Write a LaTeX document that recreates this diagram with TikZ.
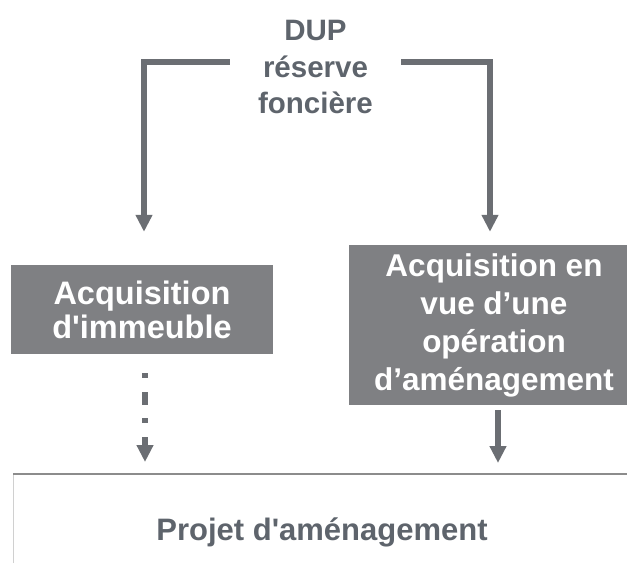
\documentclass[tikz,border=0pt]{standalone}
\usepackage{fontspec}
\setmainfont{Liberation Sans}
\usetikzlibrary{arrows.meta}
\definecolor{conncol}{HTML}{6B6E73}
\definecolor{boxcol}{HTML}{7F8083}
\definecolor{txtcol}{HTML}{5E646C}
\definecolor{framecol}{HTML}{8C8C8C}
\definecolor{sidecol}{HTML}{D0D0D0}
\tikzset{
  conn/.style={draw=conncol, line width=6.5pt, -{Triangle[width=16pt,length=17pt]}},
  graybox/.style={fill=boxcol, draw=none, text=white, align=center, inner sep=0pt, font=\bfseries},
  plaintext/.style={text=txtcol, align=center, inner sep=0pt, font=\bfseries},
}
\begin{document}
\begin{tikzpicture}[x=1pt,y=-1pt]
\clip (0,0) rectangle (627,563);
\useasboundingbox (0,0) rectangle (627,563);
% top label
\node[plaintext, minimum width=171pt, font=\bfseries\fontsize{29.5}{36.5}\selectfont] (dup) at (315.5,67) {DUP\\réserve\\foncière};
% boxes
\node[graybox, minimum width=262pt, minimum height=89pt, font=\bfseries\fontsize{32.5}{34}\selectfont] (acq1) at (142,309.5) {Acquisition\\d\textquotesingle immeuble};
\node[graybox, minimum width=290pt, minimum height=160pt, font=\bfseries\fontsize{31.5}{38}\selectfont] (acq2) at (494,325) {Acquisition en\\vue d’une\\opération\\d’aménagement};
% bottom frame
\coordinate (ftl) at (13,474);
\coordinate (ftr) at (627,474);
\coordinate (fbl) at (13,563);
\node[plaintext, font=\bfseries\fontsize{31}{36}\selectfont] (proj) at (322,532) {Projet d\textquotesingle aménagement};
\draw[sidecol, line width=1pt] (fbl) -- (ftl);
\draw[framecol, line width=2pt] (ftl) -- (ftr);
% connectors
\draw[conn, shorten >=33pt] ([yshift=5pt]dup.west) -| ([xshift=2pt]acq1.north);
\draw[conn, shorten >=13pt] ([yshift=5pt]dup.east) -| ([xshift=-4pt]acq2.north);
\draw[conn, line width=6pt, dash pattern=on 5pt off 14pt on 13pt off 13pt, shorten <=19pt, shorten >=12pt] ([xshift=3pt]acq1.south) -- ([xshift=3pt]acq1.south |- ftl);
\draw[conn, shorten <=5pt, shorten >=11pt] ([xshift=4pt]acq2.south) -- ([xshift=4pt]acq2.south |- ftl);
\end{tikzpicture}
\end{document}
